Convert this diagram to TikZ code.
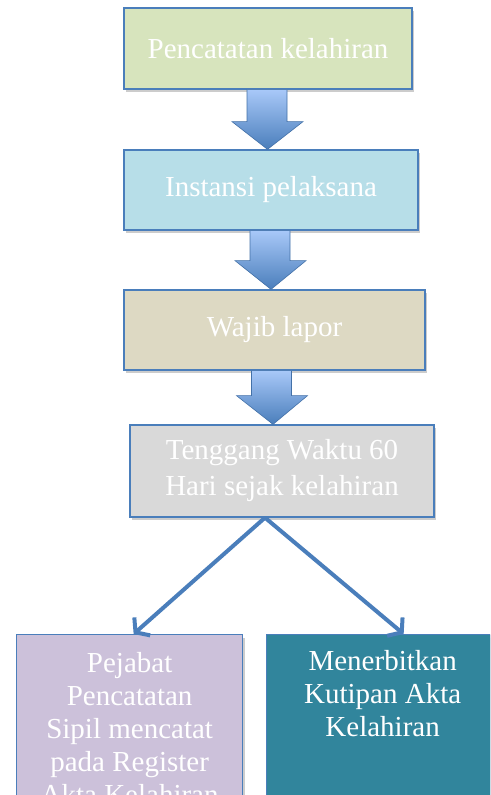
\documentclass[tikz,border=0pt]{standalone}
\usepackage{fontspec}
\setmainfont{Liberation Serif}
\usetikzlibrary{shadows,arrows.meta,calc}
\definecolor{bord}{HTML}{4A7EBB}
\definecolor{fillA}{HTML}{D7E4BD}
\definecolor{fillB}{HTML}{B7DEE8}
\definecolor{fillC}{HTML}{DDD9C3}
\definecolor{fillD}{HTML}{D9D9D9}
\definecolor{fillE}{HTML}{CCC1DA}
\definecolor{fillF}{HTML}{31859C}
\definecolor{arrtop}{HTML}{A8C8F8}
\definecolor{arrbot}{HTML}{4A7EBB}
\begin{document}
\begin{tikzpicture}[x=1pt,y=-1pt,
  box/.style={draw=bord, line width=1.3pt, text=white, align=center, inner sep=0pt,
    font=\fontsize{29}{36}\selectfont,
    drop shadow={shadow xshift=2pt, shadow yshift=-3pt, opacity=0.4}},
  lbl/.style={text=white, align=center, anchor=north, inner sep=0pt, font=\fontsize{29}{33}\selectfont},
  arrowshade/.style={top color=arrtop, bottom color=arrbot, draw=bord!90!black, line width=0.6pt},
  conn/.style={draw=bord, line width=4pt, -{Straight Barb[length=9pt, width=24pt, line width=4pt]}}]
\useasboundingbox (0,0) rectangle (490,795);
\clip (0,0) rectangle (490,795);

\node[box, fill=fillA, minimum width=288pt, minimum height=81pt] (b1) at (268,48.5) {Pencatatan kelahiran};
\node[box, fill=fillB, minimum width=294pt, minimum height=80pt] (b2) at (271,190) {Instansi pelaksana};
\node[box, fill=fillC, minimum width=301pt, minimum height=80pt] (b3) at (274.5,330) {Wajib lapor};
\node[box, fill=fillD, minimum width=304pt, minimum height=92pt] (b4) at (282,471) {Tenggang Waktu 60\\Hari sejak kelahiran};
\node[box, fill=fillE, minimum width=226pt, minimum height=200pt, anchor=north west] (b5) at (16,634) {};
\node[box, fill=fillF, minimum width=224pt, minimum height=200pt, anchor=north west] (b6) at (266,634) {};
\node[lbl] (t5) at ($(b5.north)+(0,18)$) {Pejabat\\Pencatatan\\Sipil mencatat\\pada Register\\Akta Kelahiran};
\node[lbl] (t6) at ($(b6.north)+(4,16)$) {Menerbitkan\\Kutipan Akta\\Kelahiran};

% block arrows
\shade[arrowshade] ($(b1.south)+(-21,0)$) -- ++(40,0) -- ++(0,32) -- ++(16,0) -- ($(b2.north)+(-3.5,0)$) -- ($(b1.south)+(-36,32)$) -- ++(15,0) -- cycle;
\shade[arrowshade] ($(b2.south)+(-21,0)$) -- ++(40,0) -- ++(0,30) -- ++(16,0) -- ($(b3.north)+(-3.5,0)$) -- ($(b2.south)+(-36,30)$) -- ++(15,0) -- cycle;
\shade[arrowshade] ($(b3.south)+(-23,0)$) -- ++(40,0) -- ++(0,25) -- ++(16,0) -- ($(b4.north)+(-9,0)$) -- ($(b3.south)+(-38,25)$) -- ++(15,0) -- cycle;

% connectors
\coordinate (split) at ($(b4.south)+(-17,0)$);
\draw[conn] (split) -- ($(b5.north)+(4,0)$);
\draw[conn] (split) -- ($(b6.north)+(25,0)$);
\end{tikzpicture}
\end{document}
